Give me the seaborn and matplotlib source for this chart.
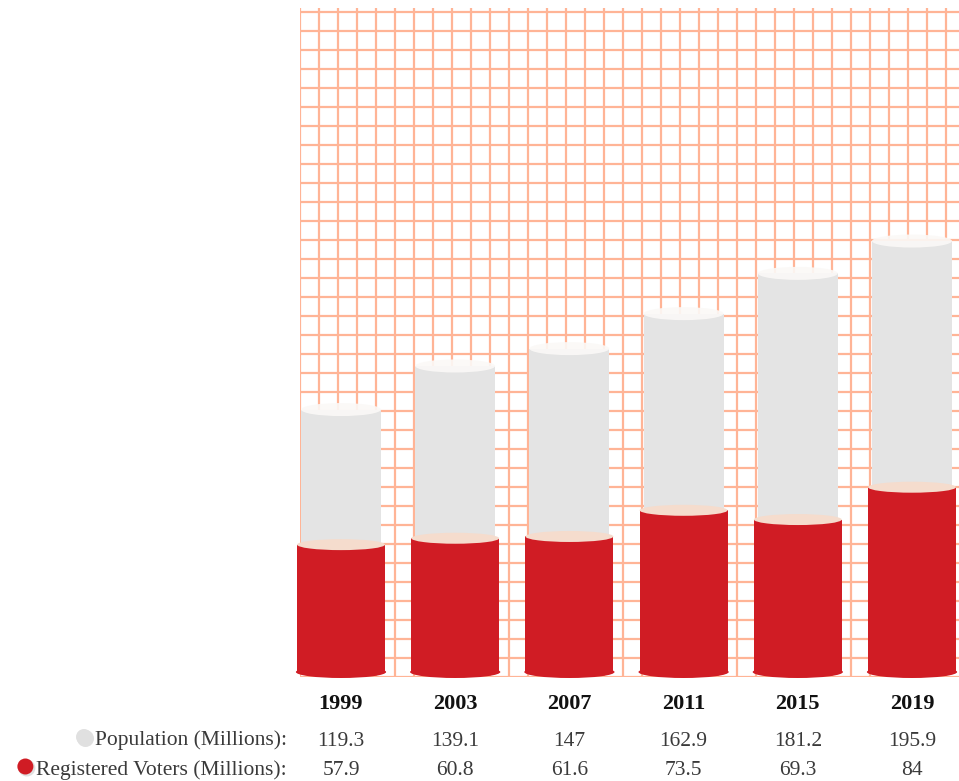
import numpy as np
import pandas as pd
import seaborn as sns
import matplotlib.pyplot as plt
from matplotlib.patches import Ellipse
from matplotlib.transforms import blended_transform_factory

years = ["1999", "2003", "2007", "2011", "2015", "2019"]
population = [119.3, 139.1, 147, 162.9, 181.2, 195.9]
voters = [57.9, 60.8, 61.6, 73.5, 69.3, 84]
row_labels = ["Population (Millions):", "Registered Voters (Millions):"]

POP_GRAY = "#e4e4e4"
VOTER_RED = "#d01c24"
GRID = "#ffb496"
TEXT = "#3a3a3a"

df = pd.DataFrame({"year": years, "population": population, "voters": voters})

sns.set_theme(style="white")
plt.rcParams["font.family"] = ["Liberation Serif", "DejaVu Serif"]

W, H = 959, 781
fig = plt.figure(figsize=(W / 100, H / 100), dpi=100)
ax = fig.add_axes([300 / W, 104 / H, 659 / W, 669 / H])

px = 2.2      # pixels per million
step = 114.2  # pixels between bar centres

sns.barplot(df, x="year", y="population", color=POP_GRAY, width=0.70,
            saturation=1, linewidth=0, ax=ax, zorder=2)
sns.barplot(df, x="year", y="voters", color=VOTER_RED, width=0.77,
            saturation=1, linewidth=0, ax=ax, zorder=3)

# cylinder caps
for i, (p, v) in enumerate(zip(population, voters)):
    ax.add_patch(Ellipse((i, p), 0.70, 13 / px, fc="#fbf9f7", ec="none", alpha=0.9, zorder=2.5))
    ax.add_patch(Ellipse((i, 0), 0.79, 12 / px, fc=VOTER_RED, ec="none", zorder=3))
    ax.add_patch(Ellipse((i, v), 0.77, 11 / px, fc="#f5dccd", ec="none", zorder=3.5))
for patch in ax.patches:
    patch.set_clip_on(False)

ylo, yhi = -5 / px, 664 / px
xlo, xhi = -41 / step, 618 / step
ax.set_ylim(ylo, yhi)
ax.set_xlim(xlo, xhi)

# graph-paper grid
ax.set_xticks(np.arange(xlo, xhi, 19 / step), minor=True)
ax.set_yticks(np.arange(ylo + 0.3 / px, yhi, 19 / px), minor=True)
ax.set_yticks([])
ax.grid(which="minor", color=GRID, lw=1.6)
ax.grid(which="major", visible=False)
ax.set_axisbelow(True)
for s in ax.spines.values():
    s.set_visible(False)

ax.set_xticks(range(len(years)))
ax.set_xticklabels(years, fontweight="bold", fontsize=16, color="#111111")
ax.tick_params(axis="both", which="both", length=0)
ax.tick_params(axis="x", pad=12)
ax.set_xlabel("")
ax.set_ylabel("")

# value table under the bars
tr = blended_transform_factory(ax.transData, fig.transFigure)
row_base = [745.5, 775]
for series, yb in zip([population, voters], row_base):
    for i, val in enumerate(series):
        ax.text(i, (H - yb) / H, f"{val:g}", transform=tr, ha="center", va="baseline",
                fontsize=15.5, color=TEXT)

labels = [fig.text(287 / W, (H - yb) / H, lab, ha="right", va="baseline",
                   fontsize=15.5, color=TEXT)
          for lab, yb in zip(row_labels, row_base)]

fig.canvas.draw()
for lab, yb, col in zip(labels, row_base, ["#e0e0e0", VOTER_RED]):
    bb = lab.get_window_extent()
    cx = bb.x0 - 11
    cy = H - (yb - 8.5)
    fig.add_artist(Ellipse(((cx + 1.5) / W, (cy - 1.5) / H), 17 / W, 17 / H,
                           transform=fig.transFigure, fc="#999999", alpha=0.3, ec="none"))
    fig.add_artist(Ellipse((cx / W, cy / H), 16 / W, 16 / H,
                           transform=fig.transFigure, fc=col, ec="none"))

fig.savefig("out.png", dpi=100)
